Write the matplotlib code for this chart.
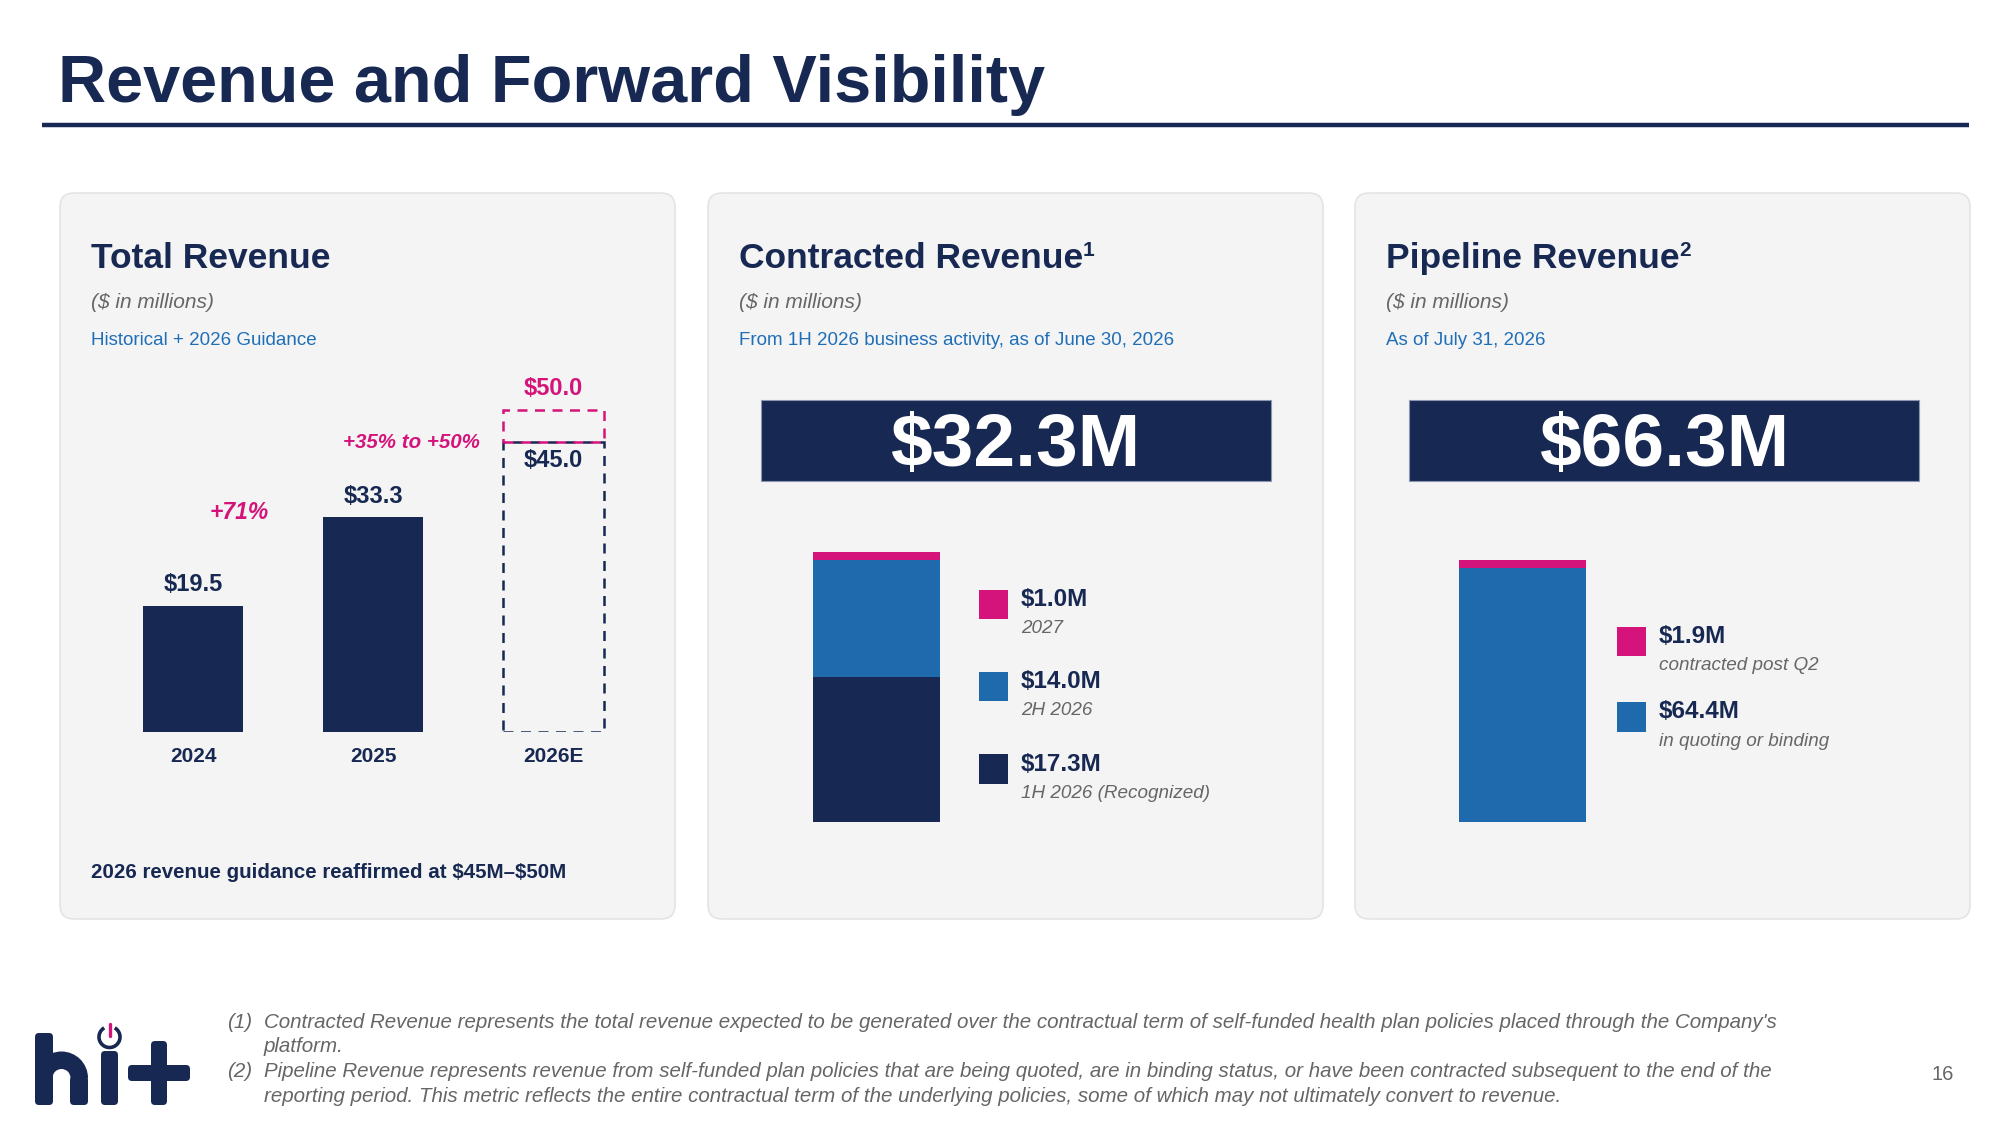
"""Slide: Revenue and Forward Visibility (three panels)."""
import matplotlib
matplotlib.use("Agg")
import matplotlib.pyplot as plt
import matplotlib.patches as mpatches

plt.rcParams["font.family"] = ["Liberation Sans", "DejaVu Sans"]

# --- data -------------------------------------------------------------
YEARS = ["2024", "2025", "2026E"]
REVENUE = [19.5, 33.3]            # actuals
GUIDE_LOW, GUIDE_HIGH = 45.0, 50.0
GROWTH_LBL = ["+71%", "+35% to +50%"]

CONTR_VALUES = [17.3, 14.0, 1.0]
CONTR_LABELS = ["1H 2026 (Recognized)", "2H 2026", "2027"]

PIPE_VALUES = [64.4, 1.9]
PIPE_LABELS = ["in quoting or binding", "contracted post Q2"]

NAVY, PINK, BLUE, GREY = "#172852", "#d4147a", "#1f6aad", "#666666"
SUBBLUE = "#1f6fb8"
PANEL_FC, PANEL_EC = "#f4f4f4", "#e4e4e4"

W, H = 2000, 1125
fig = plt.figure(figsize=(20, 11.25), dpi=100)
bg = fig.add_axes([0, 0, 1, 1])
bg.set_xlim(0, W); bg.set_ylim(H, 0); bg.axis("off")


def px_axes(left, right, top, bottom):
    a = fig.add_axes([left / W, 1 - bottom / H, (right - left) / W, (bottom - top) / H])
    a.patch.set_alpha(0)
    for s in a.spines.values():
        s.set_visible(False)
    return a


# title + rule
bg.text(58, 102, "Revenue and Forward Visibility", fontsize=48, weight="bold",
        color=NAVY, va="baseline")
bg.plot([42, 1969], [125, 125], color=NAVY, lw=3.2, solid_capstyle="butt")

# panels
PANELS = [(60, 675), (708, 1323), (1355, 1970)]
HEADS = ["Total Revenue", "Contracted Revenue", "Pipeline Revenue"]
SUPS = ["", "1", "2"]
SUBS = ["Historical + 2026 Guidance",
        "From 1H 2026 business activity, as of June 30, 2026",
        "As of July 31, 2026"]
for (x0, x1), head, sup, sub in zip(PANELS, HEADS, SUPS, SUBS):
    bg.add_patch(mpatches.FancyBboxPatch((x0, 193), x1 - x0, 726,
                                         boxstyle="round,pad=0,rounding_size=14",
                                         fc=PANEL_FC, ec=PANEL_EC, lw=1.2))
    tx = x0 + 31
    t = bg.text(tx, 268, head, fontsize=25.5, weight="bold", color=NAVY, va="baseline")
    if sup:
        bg.annotate(sup, xy=(1, 1), xycoords=t, xytext=(-0.5, 1), textcoords="offset points",
                    fontsize=15, weight="bold", color=NAVY, ha="left", va="top")
    bg.text(tx, 303, "($ in millions)", fontsize=15, style="italic", color=GREY, va="center")
    bg.text(tx, 340.5, sub, fontsize=13.5, color=SUBBLUE, va="center")

# --- panel 1 : total revenue -----------------------------------------
ppu = 6.43
base = 731.5
ax1 = px_axes(119.4, 627, base - 55 * ppu, base)
ax1.set_xlim(-0.409, 2.409); ax1.set_ylim(0, 55)
bw = 0.558
ax1.bar(range(len(REVENUE)), REVENUE, width=bw, color=NAVY)
for i, v in enumerate(REVENUE):
    ax1.annotate(f"${v:.1f}", (i, v), xytext=(0, 7), textcoords="offset points",
                 ha="center", va="bottom", fontsize=17, weight="bold", color=NAVY)
ax1.bar(2, GUIDE_LOW, width=bw, fill=False, ec=NAVY, ls=(0, (4, 3)), lw=1.8)
ax1.bar(2, GUIDE_HIGH - GUIDE_LOW, bottom=GUIDE_LOW, width=bw, fill=False,
        ec=PINK, ls=(0, (4, 3)), lw=1.8)
ax1.annotate(f"${GUIDE_HIGH:.1f}", (2, GUIDE_HIGH), xytext=(0, 7), textcoords="offset points",
             ha="center", va="bottom", fontsize=17, weight="bold", color=PINK)
ax1.annotate(f"${GUIDE_LOW:.1f}", (2, GUIDE_LOW), xytext=(0, -5), textcoords="offset points",
             ha="center", va="top", fontsize=17, weight="bold", color=NAVY)
ax1.set_xticks(range(len(YEARS)))
ax1.set_xticklabels(YEARS, fontsize=15, weight="bold", color=NAVY)
ax1.tick_params(axis="x", length=0, pad=11)
ax1.set_yticks([])
bg.text(239, 512.5, GROWTH_LBL[0], fontsize=16.5, weight="bold", style="italic",
        color=PINK, ha="center", va="center")
bg.text(411, 443, GROWTH_LBL[1], fontsize=14.8, weight="bold", style="italic",
        color=PINK, ha="center", va="center")
bg.text(91, 872, "2026 revenue guidance reaffirmed at \\$45M\u2013\\$50M", fontsize=14.8,
        weight="bold", color=NAVY, va="center")


# --- stacked panels ---------------------------------------------------
def stacked(values, labels, colors, bar_x, banner_x, leg_x, leg_top, leg_step, height):
    total = sum(values)
    bg.add_patch(mpatches.Rectangle((banner_x, 399.5), 510, 81.5, fc=NAVY, ec="#8c96b0", lw=0.8))
    bg.text(banner_x + 255, 446, f"${total:.1f}M", fontsize=54, weight="bold",
            color="white", ha="center", va="center")
    ax = px_axes(bar_x, bar_x + 127.5, 822 - height, 822)
    ax.set_xlim(-0.5, 0.5); ax.set_ylim(0, total)
    ax.set_xticks([]); ax.set_yticks([])
    bottom = 0
    for v, c in zip(values, colors):
        ax.bar(0, v, bottom=bottom, width=1, color=c)
        bottom += v
    rows = list(zip(values, labels, colors))[::-1]
    for k, (v, lab, c) in enumerate(rows):
        y = leg_top + k * leg_step
        bg.add_patch(mpatches.Rectangle((leg_x, y), 29.5, 29.5, fc=c, ec="none"))
        bg.text(leg_x + 42, y + 10, f"${v:.1f}M", fontsize=17.5, weight="bold",
                color=NAVY, va="center")
        bg.text(leg_x + 42, y + 39, lab, fontsize=13.6, style="italic", color=GREY, va="center")


stacked(CONTR_VALUES, CONTR_LABELS, [NAVY, BLUE, PINK], 813, 760.5, 978.7, 589.5, 82.3, 270)
stacked(PIPE_VALUES, PIPE_LABELS, [BLUE, PINK], 1458.5, 1408.7, 1616.7, 626.5, 75.5, 262)

# --- footnotes ----------------------------------------------------------
NOTES = [("(1)", ["Contracted Revenue represents the total revenue expected to be generated over the "
                  "contractual term of self-funded health plan policies placed through the Company's",
                  "platform."]),
         ("(2)", ["Pipeline Revenue represents revenue from self-funded plan policies that are being "
                  "quoted, are in binding status, or have been contracted subsequent to the end of the",
                  "reporting period. This metric reflects the entire contractual term of the underlying "
                  "policies, some of which may not ultimately convert to revenue."])]
y = 1022
for num, lines in NOTES:
    bg.text(227, y, num, fontsize=14.8, style="italic", color=GREY, va="center")
    for ln in lines:
        bg.text(264, y, ln, fontsize=14.8, style="italic", color=GREY, va="center")
        y += 24.7
bg.text(1943, 1075, "16", fontsize=14.5, color=GREY, ha="center", va="center")

# --- logo "hi+" -------------------------------------------------------
rb = dict(boxstyle="round,pad=0,rounding_size=4", fc=NAVY, ec="none")
bg.add_patch(mpatches.FancyBboxPatch((35, 1033), 18, 72, **rb))
bg.add_patch(mpatches.FancyBboxPatch((70, 1076), 18, 29, **rb))
bg.add_patch(mpatches.Wedge((61.5, 1078), 26.5, 180, 360, width=17.5, fc=NAVY, ec="none"))
bg.add_patch(mpatches.FancyBboxPatch((101, 1051), 17, 54, **rb))
bg.add_patch(mpatches.Arc((109.5, 1037), 21, 21, theta1=-60, theta2=240, color=NAVY, lw=2.6))
bg.plot([109.5, 109.5], [1024, 1036], color=PINK, lw=2.4, solid_capstyle="round")
bg.add_patch(mpatches.FancyBboxPatch((128, 1065), 62, 16, **rb))
bg.add_patch(mpatches.FancyBboxPatch((151, 1041), 16, 64, **rb))

fig.savefig("out.png", dpi=100)
